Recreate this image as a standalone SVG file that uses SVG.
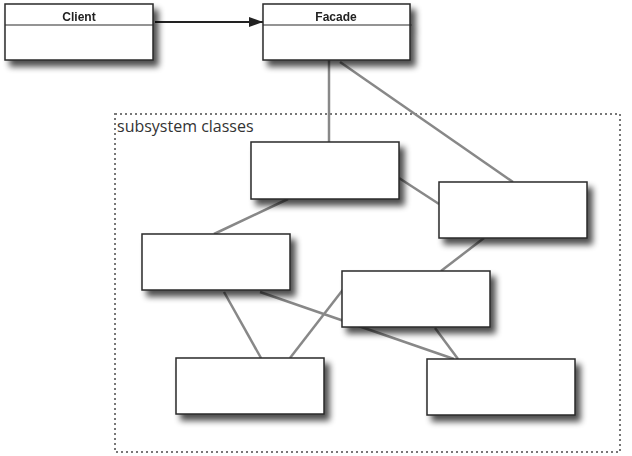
<svg xmlns="http://www.w3.org/2000/svg" width="632" height="456" viewBox="0 0 632 456">
<defs>
<filter id="sh" x="-20%" y="-30%" width="150%" height="180%">
<feGaussianBlur in="SourceAlpha" stdDeviation="3"/>
<feOffset dx="5" dy="6" result="b"/>
<feComponentTransfer><feFuncA type="linear" slope="0.7"/></feComponentTransfer>
<feMerge><feMergeNode/><feMergeNode in="SourceGraphic"/></feMerge>
</filter>
<marker id="ah" markerWidth="14" markerHeight="10" refX="14" refY="5" orient="auto" markerUnits="userSpaceOnUse">
<path d="M0,0 L14,5 L0,10 Z" fill="#222"/>
</marker>
</defs>
<style>
.box{fill:#fff;stroke:#2a2a2a;stroke-width:1.5}
.hdr{stroke:#2a2a2a;stroke-width:1.2}
.lnk{stroke:#888;stroke-width:2.5;fill:none}
.t{font-family:"Liberation Sans",Arial,sans-serif;font-weight:bold;font-size:12px;fill:#222;text-anchor:middle}
.lbl{font-family:"Open Sans","Noto Sans",sans-serif;font-size:16px;fill:#333}
</style>
<rect x="115" y="114" width="505" height="338" fill="none" stroke="#777" stroke-width="2" stroke-dasharray="2,3"/>
<text class="lbl" x="117" y="132">subsystem classes</text>
<g id="connectors">
<line class="lnk" x1="329" y1="60" x2="329" y2="142"/>
<line class="lnk" x1="340" y1="62" x2="513" y2="182"/>
<line class="lnk" x1="399" y1="178" x2="439" y2="204"/>
<line class="lnk" x1="288" y1="199" x2="214" y2="234"/>
<line class="lnk" x1="484" y1="238" x2="441" y2="271"/>
<line class="lnk" x1="224" y1="292" x2="261" y2="358"/>
<line class="lnk" x1="260" y1="292" x2="454" y2="359"/>
<line class="lnk" x1="345" y1="287" x2="290" y2="358"/>
<line class="lnk" x1="435" y1="328" x2="458" y2="359"/>
<line x1="155" y1="22" x2="263" y2="22" stroke="#222" stroke-width="2" marker-end="url(#ah)"/>
</g>
<g id="client" filter="url(#sh)">
<rect class="box" x="5" y="4" width="148" height="56"/>
<line class="hdr" x1="5" y1="25" x2="153" y2="25"/>
<text class="t" x="79" y="21">Client</text>
</g>
<g id="facade" filter="url(#sh)">
<rect class="box" x="263" y="4" width="147" height="56"/>
<line class="hdr" x1="263" y1="25" x2="412" y2="25"/>
<text class="t" x="336" y="21">Facade</text>
</g>
<g id="sub1" filter="url(#sh)"><rect class="box" x="251" y="142" width="148" height="57"/></g>
<g id="sub2" filter="url(#sh)"><rect class="box" x="439" y="182" width="148" height="56"/></g>
<g id="sub3" filter="url(#sh)"><rect class="box" x="142" y="234" width="148" height="56"/></g>
<g id="sub4" filter="url(#sh)"><rect class="box" x="342" y="271" width="148" height="56"/></g>
<g id="sub5" filter="url(#sh)"><rect class="box" x="176" y="358" width="148" height="56"/></g>
<g id="sub6" filter="url(#sh)"><rect class="box" x="427" y="359" width="148" height="56"/></g>
</svg>
